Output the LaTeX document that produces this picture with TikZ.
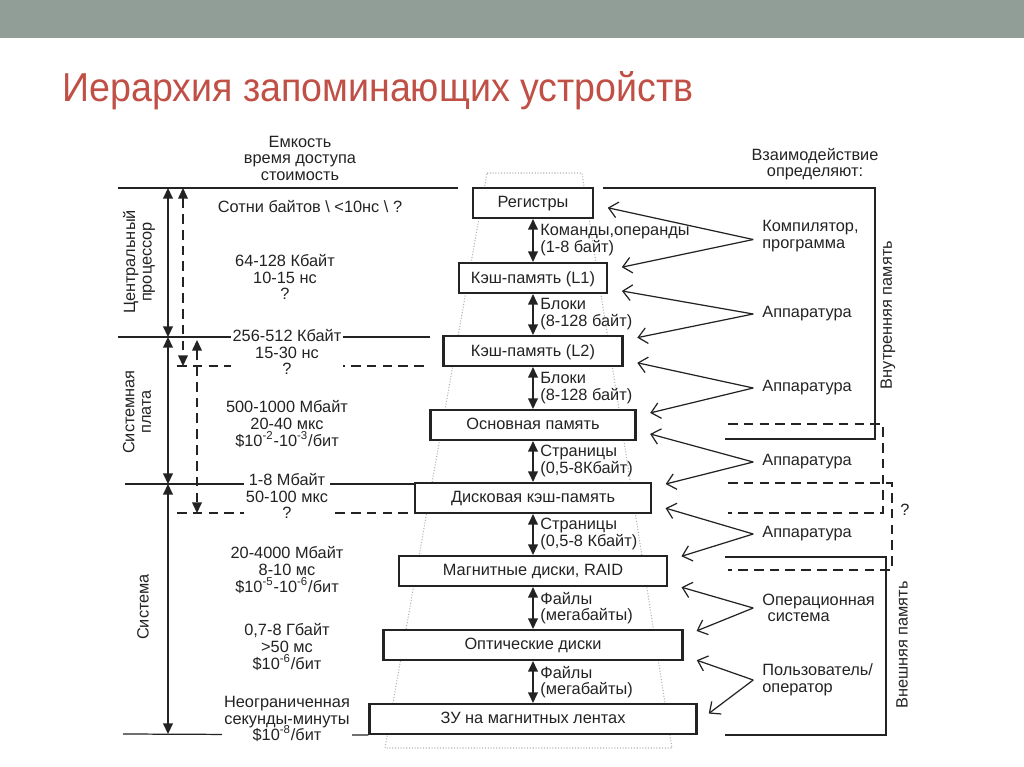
\documentclass[tikz,border=0pt]{standalone}
\usepackage{fontspec}
\setmainfont{Liberation Sans}
\newfontfamily\titlefont[FakeStretch=0.93]{Liberation Sans}
\usetikzlibrary{arrows.meta}
\definecolor{bandgray}{RGB}{145,158,152}
\definecolor{titlered}{RGB}{192,80,70}
\definecolor{ink}{RGB}{35,35,35}
\newcommand{\lbl}{\fontsize{9.3}{9.4}\selectfont}
\newcommand{\expo}[1]{\smash{\textsuperscript{#1}}}

\begin{document}
\begin{tikzpicture}[
    x=0.02cm, y=-0.02cm, color=ink,
    box/.style={rectangle, draw, line width=1.2pt, fill=white, minimum height=0.6cm, inner sep=0pt, text depth=1pt, font=\lbl},
    txt/.style={align=center, font=\lbl, inner sep=1pt},
    spec/.style={txt, fill=white},
    note/.style={align=left, font=\lbl, inner sep=0pt, anchor=west},
    sep/.style={line width=0.7pt},
    dsep/.style={line width=0.7pt, dash pattern=on 5.5pt off 3.5pt},
    guide/.style={gray!60, densely dotted, line width=0.6pt},
    biarrow/.style={{Triangle[length=6pt,width=5.5pt]}-{Triangle[length=6pt,width=5.5pt]}, line width=0.9pt},
    ctrl/.style={-{Straight Barb[length=5pt,width=9pt]}, line width=0.7pt, shorten >=8pt}
]
    \useasboundingbox (0,0) rectangle (1024,767);

    % Slide header
    \fill[bandgray] (0,0) rectangle (1024,38);
    \node[anchor=base west, inner sep=0pt, text=titlered, font=\titlefont\fontsize{23}{27}\selectfont] (title) at (62,102) {Иерархия запоминающих устройств};

    % Column headers
    \node[txt] (params) at (300,158) {Емкость\\время доступа\\стоимость};
    \node[txt] (whodefines) at (815,164) {Взаимодействие\\определяют:};

    % Dotted pyramid behind the levels
    \draw[guide] (487,173) -- (582,173) -- (672,748) -- (385,748) -- cycle;

    % Memory levels
    \node[box, minimum width=2.4cm] (reg) at (533,203) {Регистры};
    \node[box, minimum width=2.96cm] (l1) at (533,278) {Кэш-память (L1)};
    \node[box, minimum width=3.58cm] (l2) at (533,351) {Кэш-память (L2)};
    \node[box, minimum width=4.1cm] (ram) at (533,425) {Основная память};
    \node[box, minimum width=4.72cm] (dcache) at (533,498) {Дисковая кэш-память};
    \node[box, minimum width=5.36cm] (hdd) at (533,571) {Магнитные диски, RAID};
    \node[box, minimum width=5.98cm] (opt) at (533,645) {Оптические диски};
    \node[box, minimum width=6.54cm] (tape) at (533,719) {ЗУ на магнитных лентах};

    % Transfer units
    \draw[biarrow] (reg) -- (l1);
    \draw[biarrow] (l1) -- (l2);
    \draw[biarrow] (l2) -- (ram);
    \draw[biarrow] (ram) -- (dcache);
    \draw[biarrow] (dcache) -- (hdd);
    \draw[biarrow] (hdd) -- (opt);
    \draw[biarrow] (opt) -- (tape);
    \node[note] (u1) at (540,240) {Команды,операнды\\(1-8 байт)};
    \node[note] (u2) at (540,314) {Блоки\\(8-128 байт)};
    \node[note] (u3) at (540,388) {Блоки\\(8-128 байт)};
    \node[note] (u4) at (540,461) {Страницы\\(0,5-8Кбайт)};
    \node[note] (u5) at (540,534) {Страницы\\(0,5-8 Кбайт)};
    \node[note] (u6) at (540,608) {Файлы\\(мегабайты)};
    \node[note] (u7) at (540,682) {Файлы\\(мегабайты)};

    % Who controls the exchange
    \node[note] (comp) at (762,236) {Компилятор,\\программа};
    \node[note] (hw1) at (762,314) {Аппаратура};
    \node[note] (hw2) at (762,388) {Аппаратура};
    \node[note] (hw3) at (762,462) {Аппаратура};
    \node[note] (hw4) at (762,534) {Аппаратура};
    \node[note] (os) at (762,608) {Операционная\\\hspace{3pt}система};
    \node[note] (user) at (762,680) {Пользователь/\\оператор};
    \draw[ctrl] ([xshift=-5pt,yshift=-2pt]comp.west) -- ([yshift=-1pt]reg.east);
    \draw[ctrl] ([xshift=-5pt,yshift=-2pt]comp.west) -- ([yshift=4.5pt]l1.east);
    \draw[ctrl] ([xshift=-5pt]hw1.west) -- ([yshift=-6pt]l1.east);
    \draw[ctrl] ([xshift=-5pt]hw1.west) -- ([yshift=6pt]l2.east);
    \draw[ctrl] ([xshift=-5pt]hw2.west) -- ([yshift=-5pt]l2.east);
    \draw[ctrl] ([xshift=-5pt]hw2.west) -- ([yshift=5pt]ram.east);
    \draw[ctrl] ([xshift=-5pt]hw3.west) -- ([yshift=-3pt]ram.east);
    \draw[ctrl] ([xshift=-5pt]hw3.west) -- ([yshift=6pt]dcache.east);
    \draw[ctrl] ([xshift=-5pt]hw4.west) -- ([yshift=-3.5pt]dcache.east);
    \draw[ctrl] ([xshift=-5pt]hw4.west) -- ([yshift=6pt]hdd.east);
    \draw[ctrl] ([xshift=-5pt]os.west) -- ([yshift=-7pt]hdd.east);
    \draw[ctrl] ([xshift=-5pt]os.west) -- ([yshift=5pt]opt.east);
    \draw[ctrl] ([xshift=-5pt]user.west) -- ([yshift=-6pt]opt.east);
    \draw[ctrl] ([xshift=-5pt]user.west) -- ([yshift=-1.7pt]tape.east);

    % Internal / external memory brackets
    \draw[sep] (603,188) -| (875,439) -- (725,439);
    \draw[dsep] (728,424) -| (883,513) -- (728,513);
    \draw[dsep] (728,483) -| (892,570) -- (728,570);
    \draw[sep] (725,557) -| (886,735) -- (725,735);
    \node[txt, rotate=90] (inner) at (888,315) {Внутренняя память};
    \node[txt, rotate=90] (outer) at (902,645) {Внешняя память};
    \node[txt] (unknown) at (905,510) {?};

    % Level boundaries on the left
    \draw[sep] (118,188) -- (458,188);
    \draw[sep] (118,337) -- (430,337);
    \draw[dsep] (177,366) -- (430,366);
    \draw[sep] (125,484) -- (414,484);
    \draw[dsep] (177,513) -- (414,513);
    \draw[sep] (123,734) -- (tape.south west);

    % Capacity, access time, cost
    \node[spec] (c0) at (310,207) {Сотни байтов \textbackslash{} <10нс \textbackslash{} ?};
    \node[spec] (c1) at (285,277) {64-128 Кбайт\\10-15 нс\\?};
    \node[spec] (c2) at (287,352) {256-512 Кбайт\\15-30 нс\\?};
    \node[spec] (c3) at (287,424) {500-1000 Мбайт\\20-40 мкс\\\$10\expo{-2}-10\expo{-3}/бит};
    \node[spec] (c4) at (287,496) {1-8 Мбайт\\50-100 мкс\\?};
    \node[spec] (c5) at (287,570) {20-4000 Мбайт\\8-10 мс\\\$10\expo{-5}-10\expo{-6}/бит};
    \node[spec] (c6) at (287,647) {0,7-8 Гбайт\\>50 мс\\\$10\expo{-6}/бит};
    \node[spec] (c7) at (287,719) {Неограниченная\\секунды-минуты\\\$10\expo{-8}/бит};

    % Where each level sits
    \coordinate (cpuTop) at (168,188);
    \coordinate (cpuBot) at (168,337);
    \coordinate (brdBot) at (168,484);
    \coordinate (sysBot) at (168,734);
    \coordinate (l2Top) at (183,188);
    \coordinate (l2Bot) at (183,366);
    \coordinate (dcTop) at (197,340);
    \coordinate (dcBot) at (197,513);
    \draw[biarrow] (cpuTop) -- (cpuBot);
    \draw[biarrow] (cpuBot) -- (brdBot);
    \draw[biarrow] (brdBot) -- (sysBot);
    \draw[biarrow, dsep] (l2Top) -- (l2Bot);
    \draw[biarrow, dsep] (dcTop) -- (dcBot);
    \node[txt, rotate=90] (cpu) at (139,262) {Центральный\\процессор};
    \node[txt, rotate=90] (board) at (137,412) {Системная\\плата};
    \node[txt, rotate=90] (system) at (143,607) {Система};
\end{tikzpicture}
\end{document}
